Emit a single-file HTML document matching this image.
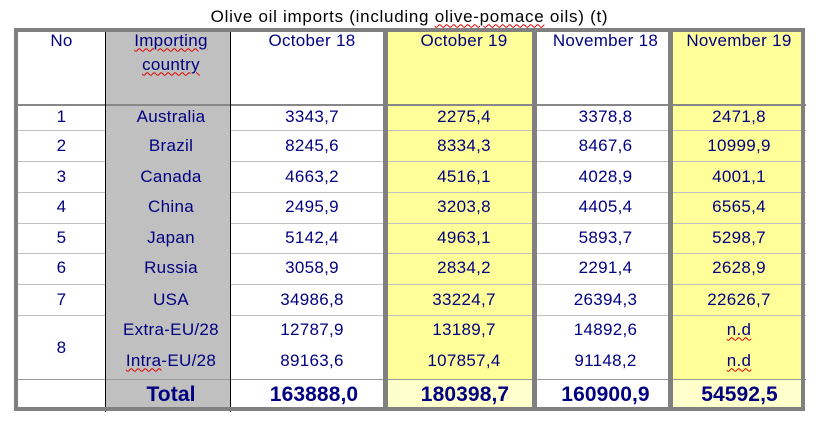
<!DOCTYPE html>
<html>
<head>
<meta charset="utf-8">
<style>
  html, body { margin:0; padding:0; }
  body { width:819px; height:426px; position:relative; overflow:hidden; background:#fff;
         font-family:"Liberation Sans", Arial, sans-serif; }
  .a { position:absolute; }
  .t { position:absolute; width:200px; text-align:center; white-space:nowrap;
       font-size:17px; line-height:20px; height:20px; color:#000080; letter-spacing:0.3px; }
  .b { font-weight:bold; font-size:21px; line-height:24px; height:24px; letter-spacing:0.1px; }
  .w { text-decoration: underline wavy #e00000; text-decoration-thickness:1px; text-underline-offset:2px; }
</style>
</head>
<body>
<!-- title -->
<div class="a" style="left:0;width:819px;top:6.5px;text-align:center;font-size:17px;line-height:20px;color:#000;letter-spacing:0.72px;white-space:nowrap;">Olive oil imports (including <span class="w">olive-pomace</span> oils) (t)</div>

<!-- backgrounds -->
<div class="a" style="left:106px;top:32px;width:124px;height:375px;background:#c0c0c0;"></div>
<div class="a" style="left:388px;top:32px;width:144px;height:347px;background:#ffff99;"></div>
<div class="a" style="left:388px;top:380px;width:144px;height:27px;background:#ffffcc;"></div>
<div class="a" style="left:673px;top:32px;width:128px;height:347px;background:#ffff99;"></div>
<div class="a" style="left:673px;top:380px;width:128px;height:27px;background:#ffffcc;"></div>

<!-- row lines -->
<div class="a" style="left:18px;top:130px;width:788px;height:1px;background:#c0c0c0;"></div>
<div class="a" style="left:18px;top:161px;width:788px;height:1px;background:#c0c0c0;"></div>
<div class="a" style="left:18px;top:192px;width:788px;height:1px;background:#c0c0c0;"></div>
<div class="a" style="left:18px;top:223px;width:788px;height:1px;background:#c0c0c0;"></div>
<div class="a" style="left:18px;top:253px;width:788px;height:1px;background:#c0c0c0;"></div>
<div class="a" style="left:18px;top:284px;width:788px;height:1px;background:#c0c0c0;"></div>
<div class="a" style="left:18px;top:315px;width:788px;height:1px;background:#c0c0c0;"></div>
<div class="a" style="left:18px;top:104px;width:788px;height:2px;background:#888;"></div>
<div class="a" style="left:18px;top:379px;width:788px;height:1px;background:#999;"></div>

<!-- black country column lines -->
<div class="a" style="left:105px;top:28px;width:1px;height:384px;background:#000;"></div>
<div class="a" style="left:230px;top:28px;width:1px;height:384px;background:#000;"></div>

<!-- thick gray separators -->
<div class="a" style="left:383px;top:28px;width:5px;height:383px;background:#808080;"></div>
<div class="a" style="left:532px;top:28px;width:5px;height:383px;background:#808080;"></div>
<div class="a" style="left:668px;top:28px;width:5px;height:383px;background:#808080;"></div>

<!-- outer border -->
<div class="a" style="left:14px;top:28px;width:791px;height:383px;border:4px solid #808080;box-sizing:border-box;"></div>

<!-- header -->
<div class="t" style="left:-38.5px;top:30.7px;">No</div>
<div class="t" style="left:71px;top:30.7px;"><span class="w">Importing</span></div>
<div class="t" style="left:71px;top:54.6px;"><span class="w">country</span></div>
<div class="t" style="left:212px;top:30.7px;">October 18</div>
<div class="t" style="left:364px;top:30.7px;">October 19</div>
<div class="t" style="left:505.5px;top:30.7px;">November 18</div>
<div class="t" style="left:639px;top:30.7px;">November 19</div>

<!-- row 1 -->
<div class="t" style="left:-38.5px;top:106.7px;">1</div>
<div class="t" style="left:71px;top:106.7px;">Australia</div>
<div class="t" style="left:212px;top:106.7px;">3343,7</div>
<div class="t" style="left:364px;top:106.7px;">2275,4</div>
<div class="t" style="left:505.5px;top:106.7px;">3378,8</div>
<div class="t" style="left:639px;top:106.7px;">2471,8</div>

<!-- row 2 -->
<div class="t" style="left:-38.5px;top:135.7px;">2</div>
<div class="t" style="left:71px;top:135.7px;">Brazil</div>
<div class="t" style="left:212px;top:135.7px;">8245,6</div>
<div class="t" style="left:364px;top:135.7px;">8334,3</div>
<div class="t" style="left:505.5px;top:135.7px;">8467,6</div>
<div class="t" style="left:639px;top:135.7px;">10999,9</div>

<!-- row 3 -->
<div class="t" style="left:-38.5px;top:166.5px;">3</div>
<div class="t" style="left:71px;top:166.5px;">Canada</div>
<div class="t" style="left:212px;top:166.5px;">4663,2</div>
<div class="t" style="left:364px;top:166.5px;">4516,1</div>
<div class="t" style="left:505.5px;top:166.5px;">4028,9</div>
<div class="t" style="left:639px;top:166.5px;">4001,1</div>

<!-- row 4 -->
<div class="t" style="left:-38.5px;top:197.4px;">4</div>
<div class="t" style="left:71px;top:197.4px;">China</div>
<div class="t" style="left:212px;top:197.4px;">2495,9</div>
<div class="t" style="left:364px;top:197.4px;">3203,8</div>
<div class="t" style="left:505.5px;top:197.4px;">4405,4</div>
<div class="t" style="left:639px;top:197.4px;">6565,4</div>

<!-- row 5 -->
<div class="t" style="left:-38.5px;top:228px;">5</div>
<div class="t" style="left:71px;top:228px;">Japan</div>
<div class="t" style="left:212px;top:228px;">5142,4</div>
<div class="t" style="left:364px;top:228px;">4963,1</div>
<div class="t" style="left:505.5px;top:228px;">5893,7</div>
<div class="t" style="left:639px;top:228px;">5298,7</div>

<!-- row 6 -->
<div class="t" style="left:-38.5px;top:258.2px;">6</div>
<div class="t" style="left:71px;top:258.2px;">Russia</div>
<div class="t" style="left:212px;top:258.2px;">3058,9</div>
<div class="t" style="left:364px;top:258.2px;">2834,2</div>
<div class="t" style="left:505.5px;top:258.2px;">2291,4</div>
<div class="t" style="left:639px;top:258.2px;">2628,9</div>

<!-- row 7 -->
<div class="t" style="left:-38.5px;top:289.9px;">7</div>
<div class="t" style="left:71px;top:289.9px;">USA</div>
<div class="t" style="left:212px;top:289.9px;">34986,8</div>
<div class="t" style="left:364px;top:289.9px;">33224,7</div>
<div class="t" style="left:505.5px;top:289.9px;">26394,3</div>
<div class="t" style="left:639px;top:289.9px;">22626,7</div>

<!-- row 8 -->
<div class="t" style="left:-38.5px;top:338px;">8</div>
<div class="t" style="left:71px;top:319.7px;">Extra-EU/28</div>
<div class="t" style="left:212px;top:319.7px;">12787,9</div>
<div class="t" style="left:364px;top:319.7px;">13189,7</div>
<div class="t" style="left:505.5px;top:319.7px;">14892,6</div>
<div class="t" style="left:639px;top:319.7px;"><span class="w">n.d</span></div>
<div class="t" style="left:71px;top:350.5px;"><span class="w">Intra</span>-EU/28</div>
<div class="t" style="left:212px;top:350.5px;">89163,6</div>
<div class="t" style="left:364px;top:350.5px;">107857,4</div>
<div class="t" style="left:505.5px;top:350.5px;">91148,2</div>
<div class="t" style="left:639px;top:350.5px;"><span class="w">n.d</span></div>

<!-- total -->
<div class="t b" style="left:71px;top:383.4px;">Total</div>
<div class="t b" style="left:214px;top:383.4px;">163888,0</div>
<div class="t b" style="left:365px;top:383.4px;">180398,7</div>
<div class="t b" style="left:505.5px;top:383.4px;">160900,9</div>
<div class="t b" style="left:639.5px;top:383.4px;">54592,5</div>
</body>
</html>
